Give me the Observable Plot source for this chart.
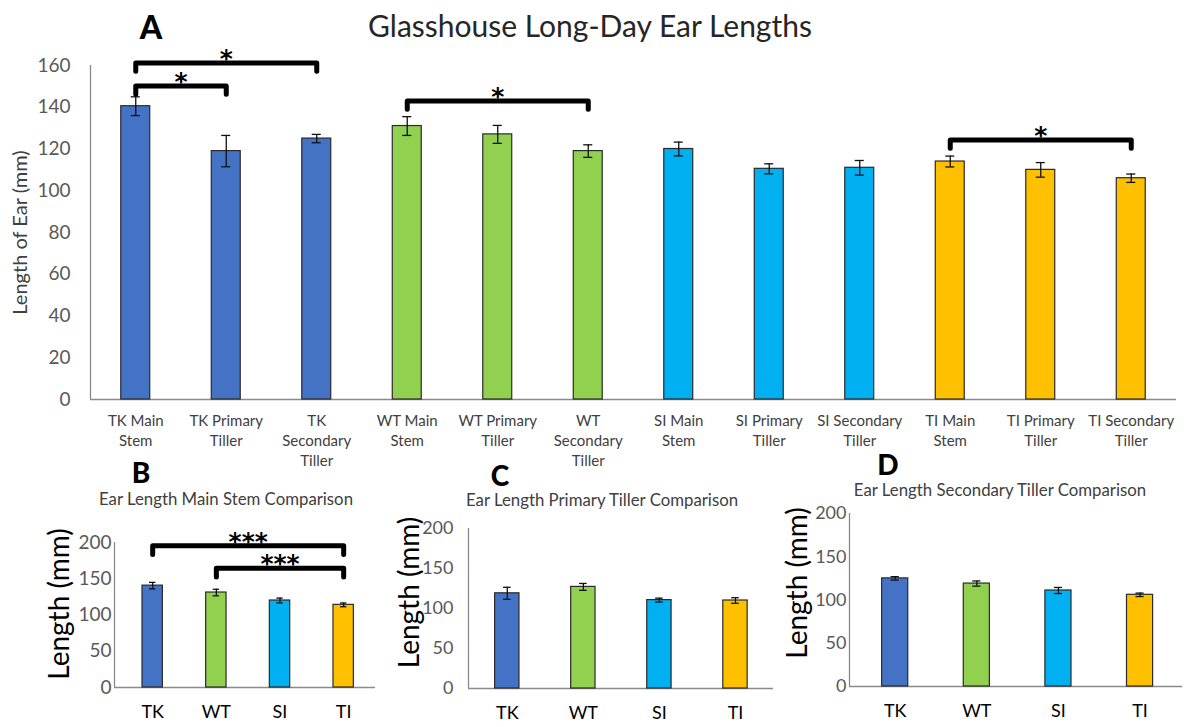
<!DOCTYPE html>
<html>
<head>
<meta charset="utf-8">
<script src="https://cdn.jsdelivr.net/npm/d3@7"></script>
<script src="https://cdn.jsdelivr.net/npm/@observablehq/plot@0.6"></script>
<style>
  body { margin: 0; background: #fff; }
  #fig { position: relative; width: 1186px; height: 727px; overflow: hidden; font-family: Lato, "Open Sans", sans-serif; background: #fff; }
  .lbl { position: absolute; transform: translate(-50%, -50%); white-space: nowrap; line-height: 1; }
  .panel { position: absolute; overflow: visible; }
</style>
</head>
<body>
<div id="fig"></div>
<script>
// Genotypes and shoot types
const groups = ["TK", "WT", "SI", "TI"];
const groupColors = ["#4472C4", "#92D050", "#00B0F0", "#FFC000"];
const parts = ["Main Stem", "Primary Tiller", "Secondary Tiller"];

// Mean ear length (mm) and error, ordered TK, WT, SI, TI
const mainStemMean = [140.5, 131, 120, 114];
const mainStemErr = [4.5, 4.5, 3.3, 2.6];
const primaryTillerMean = [119, 127, 110.5, 110];
const primaryTillerErr = [7.5, 4.3, 2.4, 3.5];
const secondaryTillerMean = [125, 119, 111, 106];
const secondaryTillerErr = [2, 3, 3.5, 2];

// Category labels for the combined chart
const labelsA = [
  "TK Main\nStem", "TK Primary\nTiller", "TK\nSecondary\nTiller",
  "WT Main\nStem", "WT Primary\nTiller", "WT\nSecondary\nTiller",
  "SI Main\nStem", "SI Primary\nTiller", "SI Secondary\nTiller",
  "TI Main\nStem", "TI Primary\nTiller", "TI Secondary\nTiller"
];
const ticksA = [0, 20, 40, 60, 80, 100, 120, 140, 160];
const ticksSub = [0, 50, 100, 150, 200];

// Significance brackets: category indices, bracket height (mm), label
const bracketsA = [
  {from: 0, to: 1, level: 150.2, label: "*"},
  {from: 0, to: 2, level: 161.2, label: "*"},
  {from: 3, to: 5, level: 143, label: "*"},
  {from: 9, to: 11, level: 124.3, label: "*"}
];
const bracketsB = [
  {from: 0, to: 3, level: 195.5, label: "***"},
  {from: 1, to: 3, level: 164.5, label: "***"}
];

const meansByPart = [mainStemMean, primaryTillerMean, secondaryTillerMean];
const errsByPart = [mainStemErr, primaryTillerErr, secondaryTillerErr];

const fig = document.getElementById("fig");

function addText(text, cx, cy, css) {
  const d = document.createElement("div");
  d.className = "lbl";
  d.textContent = text;
  d.style.left = cx + "px";
  d.style.top = cy + "px";
  Object.assign(d.style, css);
  fig.appendChild(d);
}

function place(svg, left, top) {
  svg.classList.add("panel");
  svg.style.left = left + "px";
  svg.style.top = top + "px";
  fig.appendChild(svg);
}

function bracketPath(b, drop) {
  const k = b.from + "-" + b.to;
  return [
    {k, x: b.from, y: b.level - drop},
    {k, x: b.from, y: b.level},
    {k, x: b.to, y: b.level},
    {k, x: b.to, y: b.level - drop}
  ];
}

function barPanel(o) {
  const axisColor = "#8a8a8a";
  const marks = [
    Plot.ruleY([o.yDomain[0]], {stroke: axisColor, strokeWidth: 1.5}),
    Plot.ruleX([o.xDomain[0]], {y1: o.yDomain[0], y2: o.yDomain[1], stroke: axisColor, strokeWidth: 1.3}),
    Plot.rectY(o.rows, {
      x1: d => d.i - 0.16, x2: d => d.i + 0.16, y1: 0, y2: "mean",
      fill: "group", stroke: "#2a2a2a", strokeWidth: 1.2
    }),
    Plot.ruleX(o.rows, {x: "i", y1: d => d.mean - d.err, y2: d => d.mean + d.err, stroke: "#111", strokeWidth: 1.3}),
    Plot.ruleY(o.rows, {y: d => d.mean - d.err, x1: d => d.i - 0.05, x2: d => d.i + 0.05, stroke: "#111", strokeWidth: 1.3}),
    Plot.ruleY(o.rows, {y: d => d.mean + d.err, x1: d => d.i - 0.05, x2: d => d.i + 0.05, stroke: "#111", strokeWidth: 1.3}),
    Plot.axisY({ticks: o.yTicks, tickSize: 0, tickPadding: o.tickPadding, fontSize: o.tickFont, label: null}),
    Plot.text(o.labels.map((t, i) => ({i, t})), {
      x: "i", text: "t", frameAnchor: "bottom", lineAnchor: "top",
      dy: o.labelDy, lineHeight: o.lineHeight || 1.2, fontSize: o.labelFont, fill: o.labelColor
    }),
    Plot.text([o.yLabel], {
      frameAnchor: "left", textAnchor: "middle", rotate: -90,
      dx: o.yLabelDx, dy: o.yLabelDy, fontSize: o.yLabelFont, fill: o.yLabelColor
    })
  ];
  if (o.brackets) {
    marks.push(
      Plot.line(o.brackets.flatMap(b => bracketPath(b, o.drop)), {
        x: "x", y: "y", z: "k", stroke: "#000", strokeWidth: 5,
        strokeLinejoin: "round", strokeLinecap: "round"
      }),
      Plot.text(o.brackets, {
        x: d => (d.from + d.to) / 2, y: "level", text: "label",
        lineAnchor: "middle", dy: o.starDy, fontSize: o.starFont, fontWeight: "bold",
        fontFamily: "'DejaVu Sans', sans-serif", fill: "#000"
      })
    );
  }
  return Plot.plot({
    width: o.width, height: o.height,
    marginLeft: o.marginLeft, marginRight: o.marginRight,
    marginTop: o.marginTop, marginBottom: o.marginBottom,
    style: {fontFamily: "Lato, 'Open Sans', sans-serif", color: "#595959", background: "transparent", overflow: "visible"},
    x: {domain: o.xDomain, axis: null},
    y: {domain: o.yDomain, axis: null},
    color: {domain: groups, range: groupColors},
    marks
  });
}

// Panel A: all genotypes and shoot types
const rowsA = groups.flatMap((g, gi) => parts.map((p, pi) => ({
  i: gi * 3 + pi, group: g, mean: meansByPart[pi][gi], err: errsByPart[pi][gi]
})));

place(barPanel({
  rows: rowsA, labels: labelsA, width: 1186, height: 480,
  marginLeft: 90, marginRight: 10, marginTop: 65, marginBottom: 81,
  xDomain: [-0.5, 11.5], yDomain: [0, 160], yTicks: ticksA, tickPadding: 20, tickFont: 19,
  labelDy: 12, labelFont: 15, lineHeight: 1.35, labelColor: "#404040",
  yLabel: "Length of Ear (mm)", yLabelDx: -70, yLabelDy: 0, yLabelFont: 20, yLabelColor: "#404040",
  brackets: bracketsA, drop: 4, starDy: -4, starFont: 25
}), 0, 0);

// Panels B–D: one shoot type, four genotypes
function subRows(means, errs) {
  return groups.map((g, gi) => ({i: gi, group: g, mean: means[gi], err: errs[gi]}));
}
const subCommon = {
  labels: groups, height: 227, yDomain: [0, 200], yTicks: ticksSub,
  labelDy: 15, labelFont: 18, labelColor: "#000",
  yLabel: "Length (mm)", yLabelFont: 28, yLabelColor: "#000"
};

place(barPanel({
  ...subCommon, rows: subRows(mainStemMean, mainStemErr),
  width: 390, marginLeft: 114, marginRight: 15, marginTop: 42, marginBottom: 40,
  xDomain: [-0.6, 3.5], tickPadding: 3, tickFont: 19, yLabelDx: -54, yLabelDy: -11,
  brackets: bracketsB, drop: 12, starDy: -4, starFont: 25
}), 0, 500);

place(barPanel({
  ...subCommon, rows: subRows(primaryTillerMean, primaryTillerErr),
  width: 395, marginLeft: 78, marginRight: 12, marginTop: 28, marginBottom: 39,
  xDomain: [-0.51, 3.5], tickPadding: 15, tickFont: 18, yLabelDx: -58, yLabelDy: -16
}), 390, 500);

place(barPanel({
  ...subCommon, rows: subRows(secondaryTillerMean, secondaryTillerErr),
  width: 401, marginLeft: 64, marginRight: 4, marginTop: 13, marginBottom: 41,
  xDomain: [-0.56, 3.52], tickPadding: 3, tickFont: 18, yLabelDx: -51, yLabelDy: -17
}), 785, 500);

// Titles and panel letters
addText("Glasshouse Long-Day Ear Lengths", 590, 25, {fontSize: "30px", color: "#262626"});
addText("A", 151, 27, {fontSize: "32px", fontWeight: "900", color: "#000"});
addText("B", 141, 472, {fontSize: "28px", fontWeight: "900", color: "#000"});
addText("C", 500, 475, {fontSize: "28px", fontWeight: "900", color: "#000"});
addText("D", 888, 464, {fontSize: "28px", fontWeight: "900", color: "#000"});
addText("Ear Length Main Stem Comparison", 226, 499, {fontSize: "16.8px", color: "#404040"});
addText("Ear Length Primary Tiller Comparison", 602, 500, {fontSize: "16.8px", color: "#404040"});
addText("Ear Length Secondary Tiller Comparison", 1000, 490, {fontSize: "16.8px", color: "#404040"});
</script>
</body>
</html>
